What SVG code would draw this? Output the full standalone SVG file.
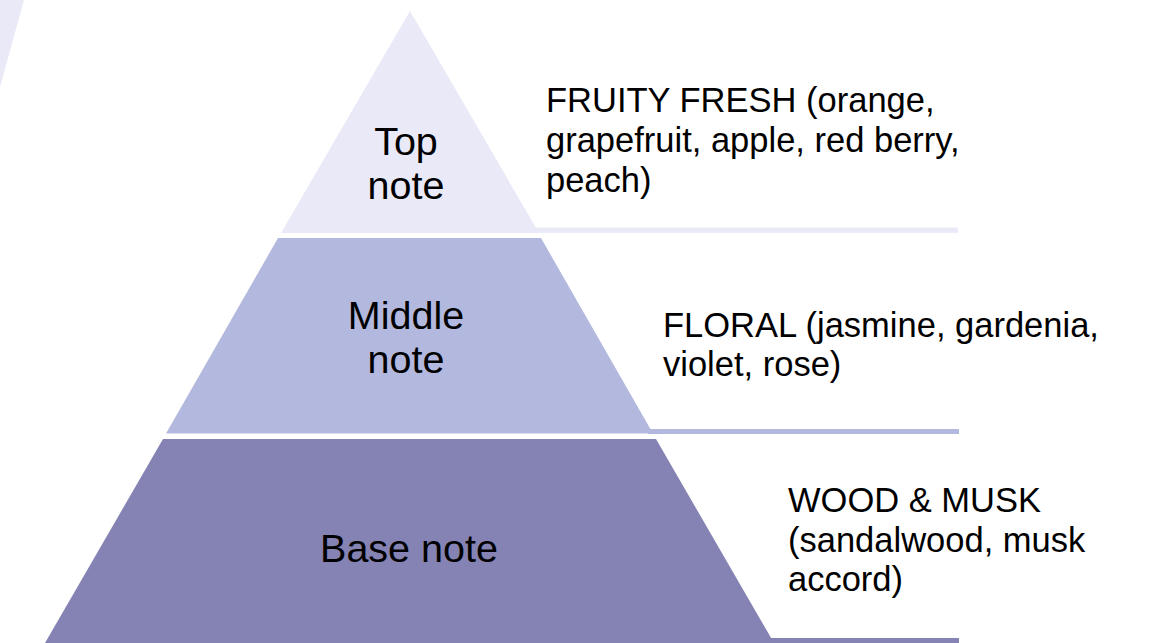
<svg xmlns="http://www.w3.org/2000/svg" width="1152" height="643" viewBox="0 0 1152 643">
<style>
.lbl{font-family:"Liberation Sans",Arial,sans-serif;font-size:39.5px;fill:#000;text-anchor:middle}
.desc{font-family:"Liberation Sans",Arial,sans-serif;font-size:34.5px;fill:#000}
.t1{fill:#e9e9f8}
.t2{fill:#b3b8de}
.t3{fill:#8483b4}
</style>
<rect width="1152" height="643" fill="#fff"/>
<polygon class="t1" points="0,0 24,0 0,87"/>
<g id="top-note">
<polygon class="t1" points="410,11 539,233 281,233"/>
<rect class="t1" x="535" y="227.5" width="423" height="5.3"/>
<text class="lbl" x="406" y="155">Top</text>
<text class="lbl" x="406" y="199">note</text>
</g>
<g id="middle-note">
<polygon class="t2" points="278,238 541,238 653,433.5 166,433.5"/>
<rect class="t2" x="648" y="429" width="311" height="5"/>
<text class="lbl" x="406" y="329">Middle</text>
<text class="lbl" x="406" y="373">note</text>
</g>
<g id="base-note">
<polygon class="t3" points="163,439 656,439 774,643 45,643"/>
<rect class="t3" x="768" y="638" width="191" height="5"/>
<text class="lbl" x="409" y="562">Base note</text>
</g>
<g id="top-desc">
<text class="desc" x="546" y="112">FRUITY FRESH (orange,</text>
<text class="desc" x="546" y="152">grapefruit, apple, red berry,</text>
<text class="desc" x="546" y="192">peach)</text>
</g>
<g id="middle-desc">
<text class="desc" x="663" y="337">FLORAL (jasmine, gardenia,</text>
<text class="desc" x="663" y="376">violet, rose)</text>
</g>
<g id="base-desc">
<text class="desc" x="788" y="512">WOOD &amp; MUSK</text>
<text class="desc" x="788" y="552">(sandalwood, musk</text>
<text class="desc" x="788" y="591">accord)</text>
</g>
<g id="connectors"></g>
</svg>
